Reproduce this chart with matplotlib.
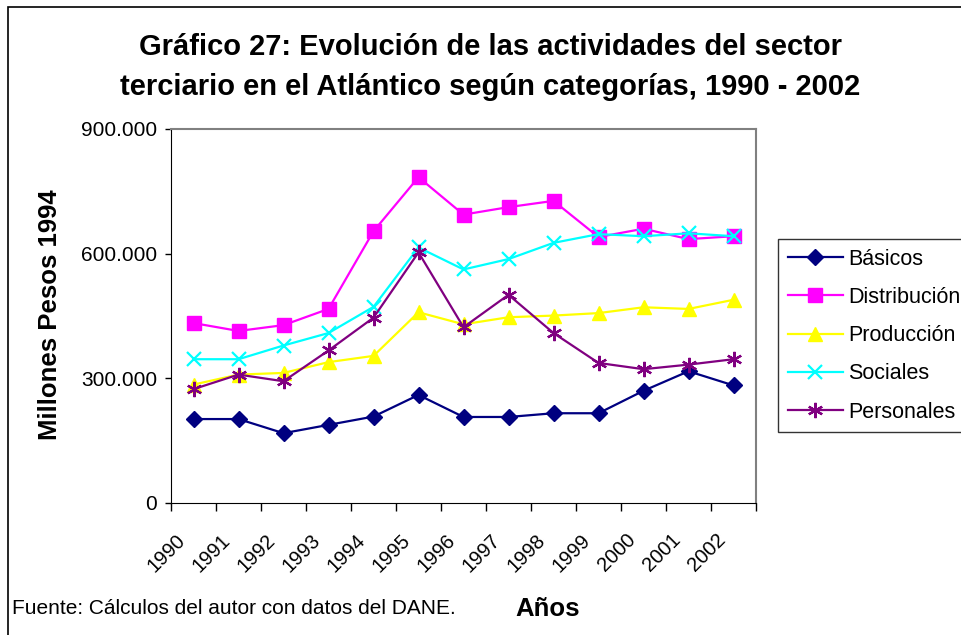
import matplotlib.pyplot as plt
from matplotlib.patches import Rectangle
from matplotlib.ticker import FuncFormatter, FixedLocator
import numpy as np

plt.rcParams['font.family'] = ['Liberation Sans', 'DejaVu Sans']

years = ['1990', '1991', '1992', '1993', '1994', '1995', '1996',
         '1997', '1998', '1999', '2000', '2001', '2002']

basicos = [202000, 202000, 168000, 188000, 208000, 260000, 207000,
           207000, 216000, 216000, 270000, 317000, 283000]
distribucion = [433000, 414000, 428000, 467000, 654000, 784000, 694000,
                712000, 727000, 640000, 660000, 635000, 642000]
produccion = [285000, 309000, 313000, 339000, 354000, 459000, 430000,
              447000, 451000, 457000, 471000, 467000, 489000]
sociales = [346000, 346000, 379000, 409000, 472000, 615000, 562000,
            587000, 626000, 647000, 642000, 649000, 642000]
personales = [274000, 309000, 293000, 367000, 446000, 603000, 423000,
              501000, 409000, 337000, 322000, 333000, 346000]

fig = plt.figure(figsize=(9.61, 6.35), dpi=100)
ax = fig.add_axes([171 / 961, 1 - 503 / 635, 585 / 961, 374 / 635])

x = np.arange(len(years))
ax.plot(x, basicos, color='#000080', lw=1.6, marker='D', ms=8.5, label='Básicos')
ax.plot(x, distribucion, color='#FF00FF', lw=1.6, marker='s', ms=9.5, label='Distribución')
ax.plot(x, produccion, color='#FFFF00', lw=1.6, marker='^', ms=10, label='Producción')
ax.plot(x, sociales, color='#00FFFF', lw=1.6, marker='x', ms=9.5, mew=1.6, label='Sociales')
ax.plot(x, personales, color='#800080', lw=1.6, marker=(6, 2, 0), ms=11, mew=1.6,
        label='Personales')

ax.set_xlim(-0.5, len(years) - 0.5)
ax.set_ylim(0, 900000)
ax.set_yticks([0, 300000, 600000, 900000])
ax.yaxis.set_major_formatter(FuncFormatter(lambda v, p: f'{int(v):,}'.replace(',', '.')))
ax.xaxis.set_major_locator(FixedLocator(np.arange(-0.5, len(years), 1.0)))
ax.set_xticklabels([])
ax.tick_params(axis='both', direction='out', length=4, width=1, labelsize=15,
               colors='black', pad=6)
ax.tick_params(axis='x', length=6)
for i, yr in enumerate(years):
    ax.text(i - 0.4, -66000, yr, rotation=45, ha='right', va='top',
            rotation_mode='anchor', fontsize=14.5, clip_on=False)

for side in ['top', 'right']:
    ax.spines[side].set_color('#808080')
    ax.spines[side].set_linewidth(1.5)
for side in ['left', 'bottom']:
    ax.spines[side].set_color('black')

fig.text(50 / 961, 1 - 315 / 635, 'Millones Pesos 1994', rotation=90,
         ha='center', va='center', fontsize=18.5, fontweight='bold')

leg = ax.legend(loc='upper left', bbox_to_anchor=(778 / 961, 1 - 239 / 635),
                bbox_transform=fig.transFigure, fontsize=15.5, frameon=True,
                fancybox=False, edgecolor='black', borderpad=0.45, labelspacing=0.8,
                handlelength=2.55, handletextpad=0.25, borderaxespad=0)
leg.get_frame().set_linewidth(1)

fig.text(490 / 961, 1 - 47 / 635, 'Gráfico 27: Evolución de las actividades del sector',
         ha='center', va='center', fontsize=21, fontweight='bold')
fig.text(490 / 961, 1 - 87 / 635, 'terciario en el Atlántico según categorías, 1990 - 2002',
         ha='center', va='center', fontsize=21, fontweight='bold')
fig.text(12 / 961, 1 - 609 / 635, 'Fuente: Cálculos del autor con datos del DANE.',
         ha='left', va='center', fontsize=15)
fig.text(548 / 961, 1 - 609 / 635, 'Años', ha='center', va='center',
         fontsize=18.5, fontweight='bold')

fig.patches.append(Rectangle((8 / 961, -0.01), 1.0, 1 - 7 / 635 + 0.01,
                             transform=fig.transFigure, fill=False,
                             edgecolor='black', lw=1.2))

fig.savefig('out.png', dpi=100)
